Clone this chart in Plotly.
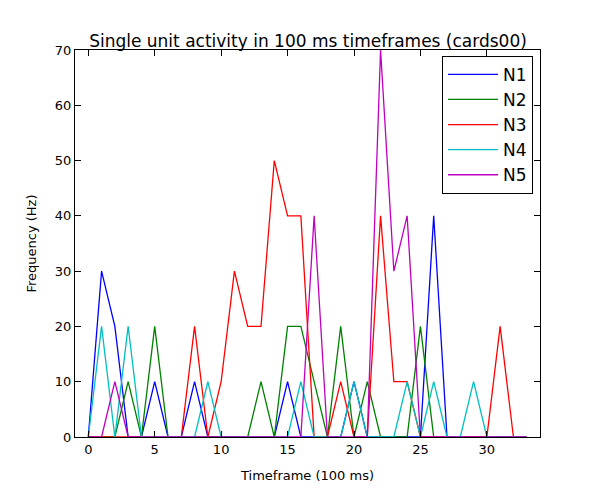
import plotly.graph_objects as go

frames = list(range(34))
n1 = [0,30,20,0,0,10,0,0,10,0,0,0,0,0,0,10,0,0,0,0,10,0,0,0,0,0,40,0,0,0,0,0,0,0]
n2 = [0,0,0,10,0,20,0,0,0,0,0,0,0,10,0,20,20,10,0,20,0,10,0,0,0,20,0,0,0,0,0,0,0,0]
n3 = [0,0,0,0,0,0,0,0,20,0,10,30,20,20,50,40,40,0,0,10,0,0,40,10,10,0,0,0,0,0,0,20,0,0]
n4 = [0,20,0,20,0,0,0,0,0,10,0,0,0,0,0,0,10,0,0,0,10,0,0,0,10,0,10,0,0,10,0,0,0,0]
n5 = [0,0,10,0,0,0,0,0,0,0,0,0,0,0,0,0,0,40,0,0,0,0,70,30,40,0,0,0,0,0,0,0,0,0]

series = [("N1", n1, "#0000ff"), ("N2", n2, "#008000"), ("N3", n3, "#ff0000"),
          ("N4", n4, "#00bfbf"), ("N5", n5, "#bf00bf")]

fig = go.Figure()
for name, vals, col in series:
    fig.add_trace(go.Scatter(x=frames, y=vals, mode="lines", name=name,
                             line=dict(color=col, width=1.3)))

axis = dict(showgrid=False, zeroline=False, showline=True, linecolor="black",
            linewidth=1, mirror="ticks", ticks="inside", ticklen=6,
            tickcolor="black", tickfont=dict(size=13, color="black"))
fig.update_xaxes(range=[-1, 34], dtick=5, title=dict(text="Timeframe (100 ms)", font=dict(size=13)), **axis)
fig.update_yaxes(range=[0, 70], dtick=10, title=dict(text="Frequency (Hz)", font=dict(size=13)), **axis)

fig.update_layout(
    width=600, height=500,
    font=dict(family="DejaVu Sans", color="black"),
    title=dict(text="Single unit activity in 100 ms timeframes (cards00)",
               x=0.5, xanchor="center", y=0.945, font=dict(size=17)),
    plot_bgcolor="white", paper_bgcolor="white",
    margin=dict(l=67, r=68, t=42, b=71),
    legend=dict(x=0.985, y=0.985, xanchor="right", yanchor="top",
                bordercolor="black", borderwidth=1, bgcolor="white",
                font=dict(size=17), itemwidth=50, tracegroupgap=6),
)

fig.write_html("out.html")
